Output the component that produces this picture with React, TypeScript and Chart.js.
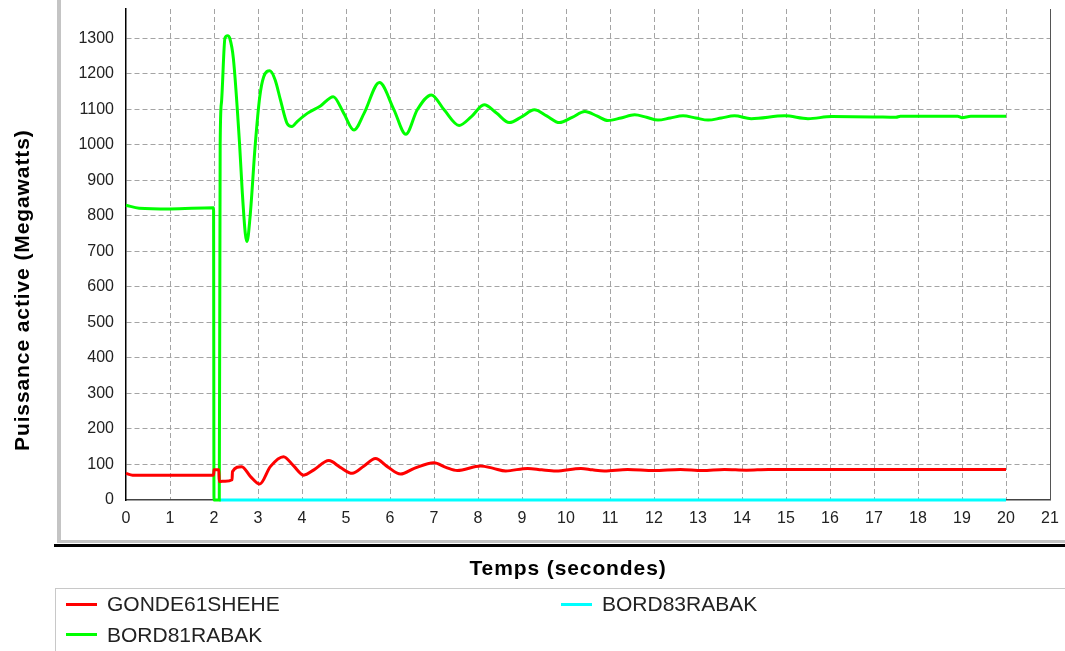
import React, { useEffect, useRef } from "react";
import { Chart, registerables } from "chart.js";

Chart.register(...registerables);

// ---- data ----
const seriesNames = ["GONDE61SHEHE", "BORD81RABAK", "BORD83RABAK"];
const seriesColors = ["#ff0000", "#00ff00", "#00ffff"];

const gondeT = [0, 0.15, 1.99, 2.0, 2.11, 2.12, 2.25, 2.41, 2.42, 2.63, 2.83, 3.04, 3.28, 3.58, 3.81, 4.04, 4.27, 4.61, 4.87, 5.14, 5.41, 5.67, 5.94, 6.24, 6.55, 7.0, 7.27, 7.53, 8.06, 8.35, 8.63, 9.13, 9.45, 9.77, 10.34, 10.6, 10.87, 11.4, 12.0, 12.6, 13.1, 13.6, 14.1, 14.6, 15.2, 16, 17, 18, 19, 20];
const gondeV = [75, 70, 70, 85, 85, 52, 53, 57, 80, 94, 66, 45, 94, 122, 96, 70, 85, 111, 92, 75, 96, 117, 94, 73, 89, 105, 92, 83, 96, 89, 82, 89, 85, 82, 89, 85, 82, 86, 83, 86, 83, 86, 84, 86, 86, 86, 86, 86, 86, 86];

const bord81T = [0, 0.3, 1.0, 1.99, 2.0, 2.12, 2.14, 2.17, 2.25, 2.31, 2.36, 2.44, 2.58, 2.64, 2.71, 2.75, 2.82, 2.94, 3.04, 3.13, 3.27, 3.39, 3.51, 3.66, 3.77, 3.89, 4.12, 4.42, 4.71, 4.95, 5.18, 5.41, 5.76, 6.09, 6.36, 6.62, 6.94, 7.23, 7.57, 7.85, 8.14, 8.42, 8.71, 9.0, 9.28, 9.56, 9.85, 10.14, 10.43, 10.7, 10.95, 11.25, 11.56, 11.83, 12.09, 12.37, 12.66, 12.95, 13.23, 13.53, 13.83, 14.21, 14.97, 15.5, 16.04, 17.0, 17.5, 17.6, 18.9, 19.0, 19.2, 20.0];
const bord81V = [830, 822, 820, 823, 0, 0, 1000, 1120, 1302, 1308, 1300, 1244, 1005, 873, 752, 728, 798, 1005, 1136, 1192, 1209, 1183, 1127, 1061, 1052, 1066, 1089, 1110, 1136, 1089, 1042, 1089, 1176, 1099, 1030, 1099, 1141, 1099, 1055, 1080, 1113, 1090, 1063, 1080, 1099, 1082, 1063, 1078, 1094, 1082, 1069, 1076, 1085, 1078, 1070, 1076, 1082, 1076, 1070, 1076, 1082, 1074, 1082, 1074, 1080, 1079, 1078, 1081, 1081, 1077, 1081, 1081];

const bord83T = [2.12, 20];
const bord83V = [0, 0];

const xMin = 0;
const xMax = 21;
const xStep = 1;
const yMin = 0;
const yMax = 1383;
const yStep = 100;

const xTitle = "Temps (secondes)";
const yTitle = "Puissance active (Megawatts)";

const FONT = "'Liberation Sans', Arial, sans-serif";

function pts(t: number[], v: number[]) {
  return t.map((x, i) => ({ x, y: v[i] }));
}

const decorPlugin = {
  id: "decor",
  afterDatasetsDraw(chart: any) {
    const { ctx, chartArea } = chart;
    ctx.save();
    ctx.strokeStyle = "#555555";
    ctx.lineWidth = 1;
    ctx.beginPath();
    ctx.moveTo(Math.round(chartArea.right) + 0.5, chartArea.top);
    ctx.lineTo(Math.round(chartArea.right) + 0.5, chartArea.bottom);
    ctx.stroke();
    ctx.restore();
  },
  afterDraw(chart: any) {
    const { ctx } = chart;
    ctx.save();
    ctx.fillStyle = "#000";
    ctx.font = `bold 21px ${FONT}`;
    (ctx as any).letterSpacing = "0.9px";
    ctx.textBaseline = "alphabetic";
    ctx.textAlign = "center";
    ctx.fillText(xTitle, 568, 575);
    ctx.translate(29, 451);
    ctx.rotate(-Math.PI / 2);
    ctx.textAlign = "left";
    ctx.fillText(yTitle, 0, 0);
    ctx.restore();
  },
};

export default function App() {
  const ref = useRef<HTMLCanvasElement | null>(null);

  useEffect(() => {
    if (!ref.current) return;
    const tVals = [gondeT, bord81T, bord83T];
    const vVals = [gondeV, bord81V, bord83V];
    const chart = new Chart(ref.current, {
      type: "line",
      data: {
        datasets: seriesNames.map((name, i) => ({
          label: name,
          data: pts(tVals[i], vVals[i]),
          borderColor: seriesColors[i],
          backgroundColor: seriesColors[i],
          borderWidth: 3,
          pointRadius: 0,
          fill: false,
          cubicInterpolationMode: "monotone" as const,
          clip: 4,
        })),
      },
      options: {
        responsive: false,
        animation: false,
        events: [],
        layout: { padding: { top: 9, right: 15, left: 0, bottom: 0 } },
        plugins: { legend: { display: false }, tooltip: { enabled: false } },
        scales: {
          x: {
            type: "linear",
            min: xMin,
            max: xMax,
            ticks: {
              stepSize: xStep,
              padding: 9,
              color: "#222",
              font: { family: FONT, size: 16 },
              maxRotation: 0,
              autoSkip: false,
              callback: (v: any) => String(v),
            },
            grid: {
              color: (c: any) => (c.tick && (c.tick.value === xMin || c.tick.value === xMax) ? "rgba(0,0,0,0)" : "#a4a4a4"),
              lineWidth: 1,
              drawTicks: false,
            },
            border: { display: true, color: "#444", width: 1.5, dash: [5, 3] as any },
            title: { display: false },
            afterFit: (s: any) => {
              s.height = 151;
              s.paddingLeft = 0;
              s.paddingRight = 0;
            },
          },
          y: {
            type: "linear",
            min: yMin,
            max: yMax,
            afterBuildTicks: (s: any) => {
              s.ticks = s.ticks.filter((t: any) => Math.abs(t.value % yStep) < 1e-6);
            },
            ticks: {
              stepSize: yStep,
              padding: 12,
              color: "#222",
              font: { family: FONT, size: 16 },
              autoSkip: false,
              callback: (v: any) => String(v),
            },
            grid: {
              color: (c: any) => (c.tick && c.tick.value === yMin ? "rgba(0,0,0,0)" : "#a4a4a4"),
              lineWidth: 1,
              drawTicks: false,
            },
            border: { display: true, color: "#000", width: 1.5, dash: [5, 3] as any },
            title: { display: false },
            afterFit: (s: any) => {
              s.width = 126;
              s.paddingTop = 0;
              s.paddingBottom = 0;
            },
          },
        },
      },
      plugins: [decorPlugin],
    } as any);
    return () => chart.destroy();
  }, []);

  return (
    <div
      style={{
        position: "fixed",
        left: 0,
        top: 0,
        width: 1065,
        height: 651,
        background: "#fff",
        overflow: "hidden",
      }}
    >
      <canvas ref={ref} width={1065} height={651} style={{ position: "absolute", left: 0, top: 0 }} />
      {/* frame bevel */}
      <div style={{ position: "absolute", left: 57, top: 0, width: 4, height: 542, background: "#c4c4c4" }} />
      <div style={{ position: "absolute", left: 57, top: 540, width: 1008, height: 3, background: "#c4c4c4" }} />
      <div style={{ position: "absolute", left: 54, top: 544, width: 1011, height: 3, background: "#000" }} />
      {/* legend */}
      <div
        style={{
          position: "absolute",
          left: 55,
          top: 588,
          width: 1030,
          height: 100,
          borderTop: "1px solid #c8c8c8",
          borderLeft: "1px solid #c8c8c8",
          boxSizing: "border-box",
          display: "grid",
          gridAutoFlow: "column",
          gridTemplateRows: "30px 31px",
          gridTemplateColumns: "495px 495px",
          paddingLeft: 10,
          paddingTop: 0,
          fontFamily: FONT,
          fontSize: 21,
          color: "#222",
        }}
      >
        {seriesNames.map((n, i) => (
          <div key={n} style={{ display: "flex", alignItems: "center", height: "100%" }}>
            <span style={{ display: "inline-block", width: 31, height: 3, background: seriesColors[i], marginRight: 10 }} />
            <span style={{ lineHeight: "30px" }}>{n}</span>
          </div>
        ))}
      </div>
    </div>
  );
}
